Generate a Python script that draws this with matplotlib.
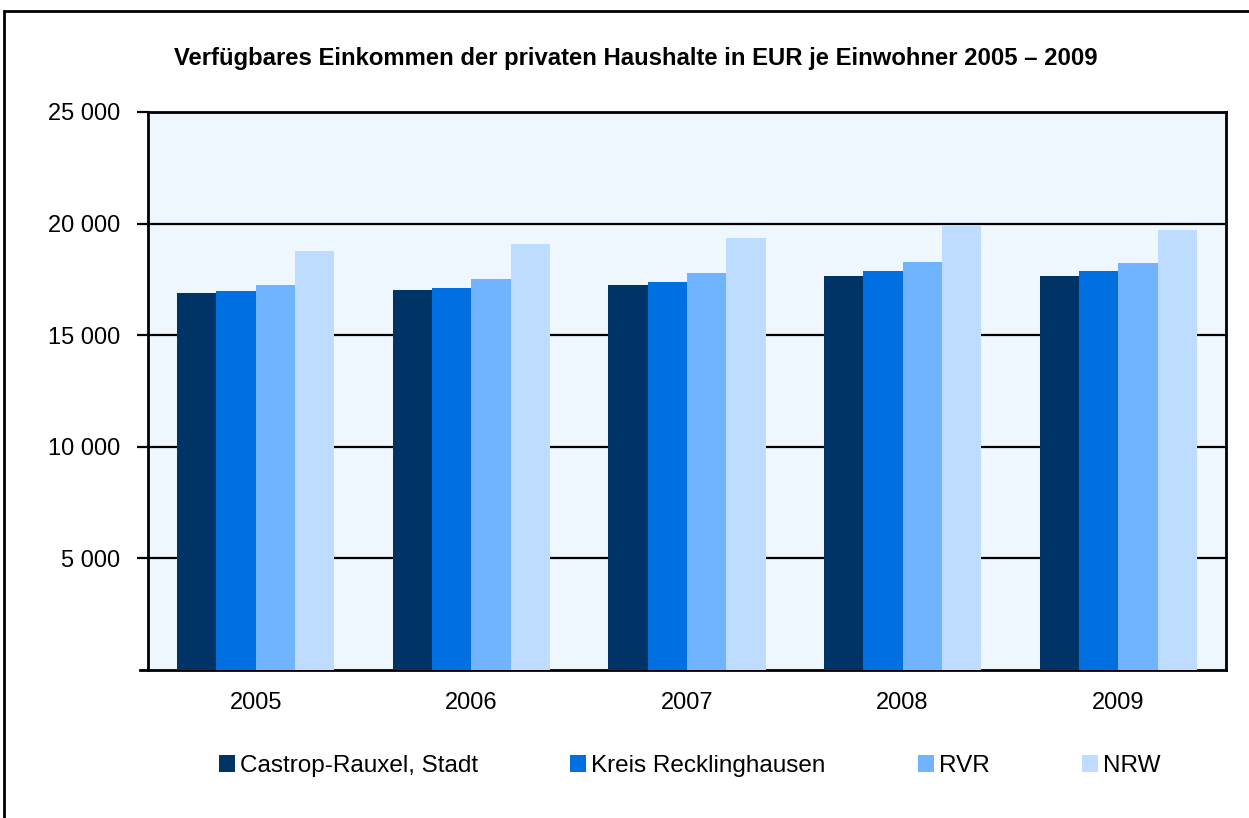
import numpy as np
import matplotlib
matplotlib.use("Agg")
import matplotlib.pyplot as plt
from matplotlib.patches import Rectangle

plt.rcParams["font.family"] = ["Liberation Sans", "DejaVu Sans"]

years = ["2005", "2006", "2007", "2008", "2009"]
series = ["Castrop-Rauxel, Stadt", "Kreis Recklinghausen", "RVR", "NRW"]
castrop = [16880, 17020, 17240, 17660, 17660]
kreis = [16970, 17130, 17390, 17880, 17880]
rvr = [17260, 17510, 17780, 18290, 18240]
nrw = [18780, 19090, 19360, 19920, 19720]
yticks = [5000, 10000, 15000, 20000, 25000]
ytick_labels = ["5 000", "10 000", "15 000", "20 000", "25 000"]

colors = ["#003366", "#006FE0", "#70B4FF", "#BEDCFF"]

fig = plt.figure(figsize=(12.49, 8.18), dpi=100)
ax = fig.add_axes([148 / 1249, 1 - 670 / 818, (1226 - 148) / 1249, (670 - 112) / 818])
ax.set_facecolor("#EEF6FE")

x = np.arange(len(years))
w = 0.1825
for i, (vals, name) in enumerate(zip([castrop, kreis, rvr, nrw], series)):
    ax.bar(x + (i - 1.5) * w, vals, width=w, color=colors[i], label=name, zorder=3)

ax.set_xlim(-0.5, 4.5)
ax.set_ylim(0, 25000)
ax.set_yticks(yticks)
ax.set_yticklabels(ytick_labels)
ax.set_xticks(x)
ax.set_xticklabels(years)
ax.yaxis.grid(True, color="black", lw=1.6, zorder=1)
ax.set_axisbelow(True)
for s in ax.spines.values():
    s.set_linewidth(2)
    s.set_color("black")
ax.tick_params(axis="y", length=8, width=1.6, pad=12, labelsize=17)
ax.tick_params(axis="x", length=0, pad=16, labelsize=17)

# bottom axis line extends left like the tick marks
ax.plot([-0.5 - 8 / 215.6, -0.5], [0, 0], color="black", lw=2, clip_on=False, zorder=4)

fig.text(0.509, 1 - 58 / 818, "Verfügbares Einkommen der privaten Haushalte in EUR je Einwohner 2005 – 2009",
         ha="center", va="center", fontsize=17.2, fontweight="bold")

leg = fig.legend(loc="center", bbox_to_anchor=(0.552, 1 - 766 / 818), ncol=4, frameon=False,
                 fontsize=17.5, handlelength=0.66, handleheight=0.66, handletextpad=0.2,
                 columnspacing=3.8)

fig.patches.append(Rectangle((4 / 1249, -0.1), 1.2, 1.1 - 11 / 818, transform=fig.transFigure,
                             fill=False, edgecolor="black", lw=2))

fig.savefig("out.png", dpi=100)
